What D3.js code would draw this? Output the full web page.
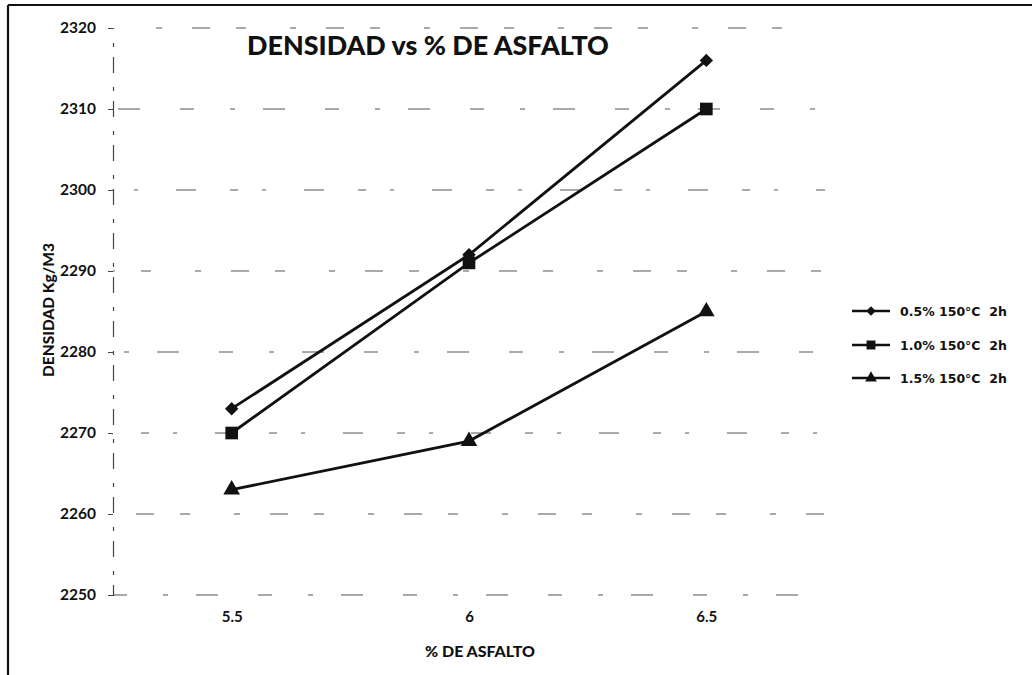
<!DOCTYPE html>
<html><head><meta charset="utf-8">
<script src="https://cdn.jsdelivr.net/npm/d3@7/dist/d3.min.js"></script>
<style>body{margin:0;background:#fff}svg{display:block}</style>
</head><body>
<svg id="c" width="1032" height="675"></svg>
<script>
const categories = ["5.5", "6", "6.5"];
const seriesNames = ["0.5% 150°C  2h", "1.0% 150°C  2h", "1.5% 150°C  2h"];
const s1 = [2273, 2292, 2316];
const s2 = [2270, 2291, 2310];
const s3 = [2263, 2269, 2285];
const yTicks = [2250, 2260, 2270, 2280, 2290, 2300, 2310, 2320];
const title = "DENSIDAD vs % DE ASFALTO";
const xTitle = "% DE ASFALTO";
const yTitle = "DENSIDAD Kg/M3";

const series = [
  {name: seriesNames[0], values: s1, shape: "diamond"},
  {name: seriesNames[1], values: s2, shape: "square"},
  {name: seriesNames[2], values: s3, shape: "triangle"}
];

const svg = d3.select("#c");
const L = 113, R = 825, T = 28, B = 595;
const x = d3.scalePoint().domain(categories).range([L, R]).padding(0.5);
const y = d3.scaleLinear().domain([2250, 2320]).range([B, T]);
const font = "Lato, 'Open Sans', sans-serif";

// frame
svg.append("line").attr("x1", 8).attr("x2", 8).attr("y1", 5).attr("y2", 675).attr("stroke", "#111").attr("stroke-width", 2.2);
svg.append("line").attr("x1", 8).attr("x2", 1032).attr("y1", 5).attr("y2", 5).attr("stroke", "#111").attr("stroke-width", 2);

// gridlines
const dashes = ["14,36,5,28,22,40", "6,30,18,26,10,44", "20,34,8,24,4,38"];
svg.append("g").selectAll("line").data(yTicks).join("line")
  .attr("x1", L).attr("x2", R)
  .attr("y1", d => y(d)).attr("y2", d => y(d))
  .attr("stroke", "#555").attr("stroke-width", 1.2)
  .attr("stroke-dasharray", (d, i) => dashes[i % 3])
  .attr("stroke-dashoffset", (d, i) => i * 13);

// y axis
const yAxis = d3.axisLeft(y).tickValues(yTicks).tickSize(5).tickPadding(12).tickFormat(d3.format("d"));
const ga = svg.append("g").attr("transform", `translate(${L},0)`).call(yAxis);
ga.select(".domain").attr("stroke", "#444").attr("stroke-width", 1.2).attr("stroke-dasharray", "16,10,4,14");
ga.selectAll(".tick line").attr("stroke", "#444");
ga.selectAll("text").attr("font-family", font).attr("font-weight", "bold").attr("font-size", 15.5).attr("fill", "#111");

// x axis labels
const xAxis = d3.axisBottom(x).tickSize(0).tickPadding(16);
const gx = svg.append("g").attr("transform", `translate(0,${B})`).call(xAxis);
gx.select(".domain").remove();
gx.selectAll("text").attr("font-family", font).attr("font-weight", "bold").attr("font-size", 15).attr("fill", "#111");

// lines
const line = d3.line().x((d, i) => x(categories[i])).y(d => y(d));
svg.append("g").selectAll("path").data(series).join("path")
  .attr("d", d => line(d.values)).attr("fill", "none").attr("stroke", "#111").attr("stroke-width", 2.8);

function sym(shape, scale) {
  if (shape === "diamond") return {p: d3.symbol(d3.symbolSquare, 90 * scale)(), rot: 45};
  if (shape === "square") return {p: d3.symbol(d3.symbolSquare, 160 * scale)(), rot: 0};
  return {p: d3.symbol(d3.symbolTriangle, 120 * scale)(), rot: 0};
}
series.forEach(s => {
  const m = sym(s.shape, 1);
  svg.append("g").selectAll("path").data(s.values).join("path")
    .attr("d", m.p)
    .attr("transform", (d, i) => `translate(${x(categories[i])},${y(d)}) rotate(${m.rot})`)
    .attr("fill", "#111");
});

// legend
const lg = svg.append("g");
const legY = [311, 345, 378];
series.forEach((s, i) => {
  const g = lg.append("g").attr("transform", `translate(852,${legY[i]})`);
  g.append("line").attr("x1", 0).attr("x2", 38).attr("y1", 0).attr("y2", 0).attr("stroke", "#111").attr("stroke-width", 2.4);
  const m = sym(s.shape, 0.5);
  g.append("path").attr("d", m.p).attr("transform", `translate(19,0) rotate(${m.rot})`).attr("fill", "#111");
  const tx = g.append("text").attr("x", 48).attr("y", 4.5).text(s.name)
    .attr("font-family", "'DejaVu Sans', sans-serif").attr("font-weight", "bold").attr("font-size", 12).attr("fill", "#111")
    .style("white-space", "pre");
  const w = tx.node().getComputedTextLength();
  tx.attr("font-size", 12 * 107 / w);
});

// titles
const t = svg.append("text").attr("x", 428).attr("y", 55).attr("text-anchor", "middle")
  .attr("font-family", font).attr("font-weight", "900").attr("font-size", 24).attr("fill", "#111").text(title);
const tw = t.node().getComputedTextLength();
t.attr("font-size", 24 * 362 / tw);

const xt = svg.append("text").attr("x", 480).attr("y", 657).attr("text-anchor", "middle")
  .attr("font-family", font).attr("font-weight", "900").attr("font-size", 13).attr("fill", "#111").text(xTitle);
const xw = xt.node().getComputedTextLength();
xt.attr("font-size", 13 * 110 / xw);

const yt = svg.append("text").attr("transform", "translate(54,310) rotate(-90)").attr("text-anchor", "middle")
  .attr("font-family", font).attr("font-weight", "900").attr("font-size", 13).attr("fill", "#111").text(yTitle);
const yw = yt.node().getComputedTextLength();
yt.attr("font-size", 13 * 134 / yw);
</script>
</body></html>
